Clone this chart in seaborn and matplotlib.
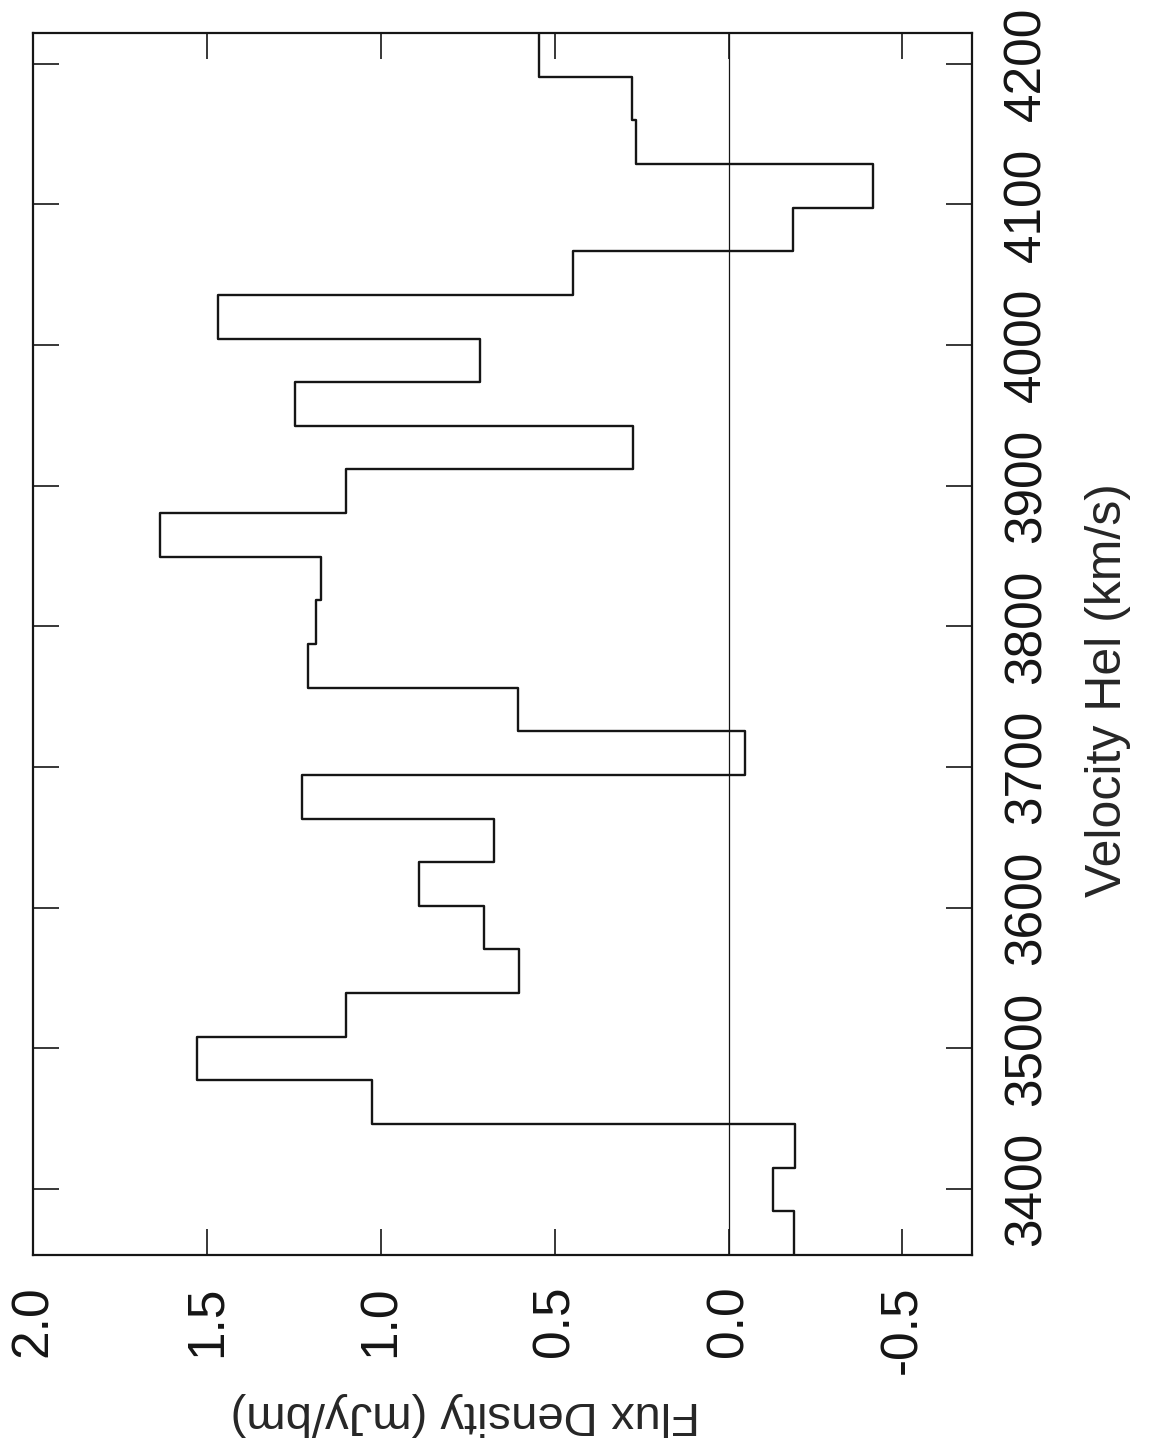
import numpy as np
import matplotlib
matplotlib.use("Agg")
import matplotlib.pyplot as plt
import seaborn as sns
import pandas as pd

# Channel edges (heliocentric velocity, km/s) and flux per channel (mJy/bm)
vel_edges = [3353.1, 3384.1, 3415.2, 3446.2, 3477.2, 3508.3, 3539.3, 3570.3,
             3601.3, 3632.4, 3663.4, 3694.4, 3725.5, 3756.5, 3787.5, 3818.6,
             3849.6, 3880.6, 3911.6, 3942.7, 3973.7, 4004.7, 4035.8, 4066.8,
             4097.8, 4128.9, 4159.9, 4190.9, 4221.9]
flux = [-0.187, -0.128, -0.192, 1.025, 1.528, 1.099, 0.602, 0.703,
        0.891, 0.674, 1.227, -0.046, 0.606, 1.208, 1.185, 1.171,
        1.634, 1.099, 0.276, 1.246, 0.714, 1.467, 0.448, -0.185,
        -0.415, 0.267, 0.278, 0.545]

vel_ticks = [3400, 3500, 3600, 3700, 3800, 3900, 4000, 4100, 4200]
flux_ticks = [2.0, 1.5, 1.0, 0.5, 0.0, -0.5]
flux_tick_labels = ['2.0', '1.5', '1.0', '0.5', '0.0', '-0.5']

sns.set_style('ticks')
plt.rcParams['font.family'] = ['Liberation Sans', 'DejaVu Sans']
plt.rcParams['axes.unicode_minus'] = False

# step outline: last flux value repeated to close the top channel
df = pd.DataFrame({'flux': flux + [flux[-1]], 'velocity': vel_edges})

fig = plt.figure(figsize=(11.5, 14.46), dpi=100)
ax = fig.add_axes([33 / 1150, 1 - 1255 / 1446, 939 / 1150, 1222 / 1446])

sns.lineplot(data=df, x='flux', y='velocity', sort=False, estimator=None,
             drawstyle='steps-pre', color='#151515', linewidth=1.7, ax=ax)
ax.axvline(0, color='#151515', linewidth=0.9)

ax.set_xlim(2.0, -0.7)
ax.set_ylim(vel_edges[0], vel_edges[-1])

ax.set_xticks(flux_ticks)
ax.set_xticklabels(flux_tick_labels)
ax.set_yticks(vel_ticks)

for s in ax.spines.values():
    s.set_linewidth(1.6)
    s.set_color('#151515')

ax.tick_params(axis='both', direction='in', length=19, width=1.2,
               top=True, bottom=True, left=True, right=True,
               labelsize=37, labelrotation=90, colors='#151515')
ax.tick_params(axis='y', labelleft=False, labelright=True, pad=22)
ax.tick_params(axis='x', pad=22)
for lab in ax.get_yticklabels():
    lab.set_verticalalignment('center')

ax.set_xlabel('Flux Density (mJy/bm)', fontsize=34, rotation=180)
ax.xaxis.set_label_coords(0.46, -0.112)
ax.yaxis.set_label_position('right')
ax.set_ylabel('Velocity Hel (km/s)', fontsize=36, rotation=90)
ax.yaxis.set_label_coords(1.12, 0.462)

fig.savefig('out.png', dpi=100)
